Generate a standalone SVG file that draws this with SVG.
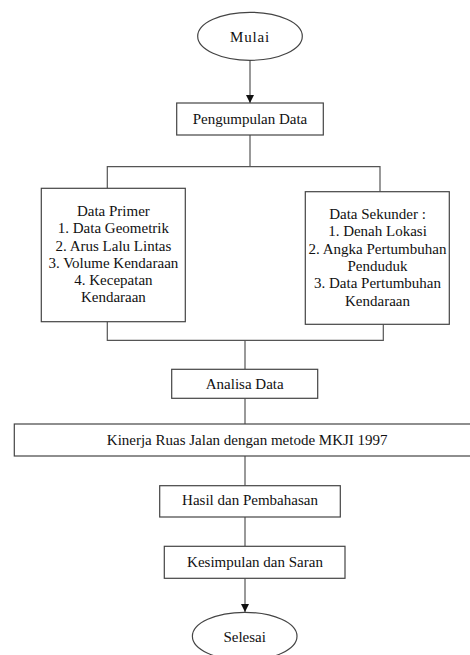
<svg xmlns="http://www.w3.org/2000/svg" width="470" height="655" viewBox="0 0 470 655">
<style>
.box{fill:#fff;stroke:#444;stroke-width:1.2}
.t{font-family:'Liberation Serif','Times New Roman',serif;font-size:15px;fill:#111;text-anchor:middle}
.c{fill:none;stroke:#555;stroke-width:1.2}
</style>
<defs>
<marker id="ah" viewBox="0 0 10 10" refX="10" refY="5" markerWidth="8" markerHeight="8" markerUnits="userSpaceOnUse" orient="auto">
<path d="M0,0 L10,5 L0,10 z" fill="#111"/>
</marker>
</defs>
<rect width="470" height="655" fill="#fff"/>
<g id="connectors">
<line class="c" x1="250" y1="60" x2="250" y2="103" marker-end="url(#ah)"/>
<polyline class="c" points="250,135 250,166.7"/>
<polyline class="c" points="107.3,188.3 107.3,166.7 380,166.7 380,191.7"/>
<polyline class="c" points="107.3,321.7 107.3,340.3 383.3,340.3 383.3,324.3"/>
<line class="c" x1="245" y1="340.3" x2="245" y2="369.3"/>
<line class="c" x1="245" y1="398.3" x2="245" y2="424"/>
<line class="c" x1="245" y1="456" x2="245" y2="485.7"/>
<line class="c" x1="245" y1="517" x2="245" y2="546.3"/>
<line class="c" x1="245" y1="578.3" x2="245" y2="612" marker-end="url(#ah)"/>
</g>
<g id="mulai">
<ellipse class="box" cx="250" cy="36.3" rx="52.3" ry="24"/>
<text class="t" x="250" y="41.5" font-size="16" letter-spacing="0.8">Mulai</text>
</g>
<g id="pengumpulan">
<rect class="box" x="176.7" y="103" width="146.6" height="32"/>
<text class="t" x="250" y="124">Pengumpulan Data</text>
</g>
<g id="primer">
<rect class="box" x="41.3" y="188.3" width="144" height="133.4"/>
<text class="t" x="113.4" y="216">Data Primer</text>
<text class="t" x="113.4" y="233.3">1. Data Geometrik</text>
<text class="t" x="113.4" y="250.7">2. Arus Lalu Lintas</text>
<text class="t" x="113.4" y="267.9">3. Volume Kendaraan</text>
<text class="t" x="113.4" y="285.1">4. Kecepatan</text>
<text class="t" x="113.4" y="302.3">Kendaraan</text>
</g>
<g id="sekunder">
<rect class="box" x="305.3" y="191.7" width="144" height="132.6"/>
<text class="t" x="377.5" y="218.7">Data Sekunder :</text>
<text class="t" x="377.5" y="236">1. Denah Lokasi</text>
<text class="t" x="377.5" y="253.7">2. Angka Pertumbuhan</text>
<text class="t" x="377.5" y="271">Penduduk</text>
<text class="t" x="377.5" y="288.3">3. Data Pertumbuhan</text>
<text class="t" x="377.5" y="305.7">Kendaraan</text>
</g>
<g id="analisa">
<rect class="box" x="171.7" y="369.3" width="146" height="29"/>
<text class="t" x="244.7" y="389">Analisa Data</text>
</g>
<g id="kinerja">
<rect class="box" x="14.3" y="424" width="460" height="32"/>
<text class="t" x="247.2" y="445">Kinerja Ruas Jalan dengan metode MKJI 1997</text>
</g>
<g id="hasil">
<rect class="box" x="159.7" y="485.7" width="180.6" height="31.3"/>
<text class="t" x="250" y="505">Hasil dan Pembahasan</text>
</g>
<g id="kesimpulan">
<rect class="box" x="164.3" y="546.3" width="180.7" height="32"/>
<text class="t" x="255" y="567">Kesimpulan dan Saran</text>
</g>
<g id="selesai">
<ellipse class="box" cx="244.7" cy="636.3" rx="52.3" ry="24"/>
<text class="t" x="244.7" y="641.5">Selesai</text>
</g>
</svg>
